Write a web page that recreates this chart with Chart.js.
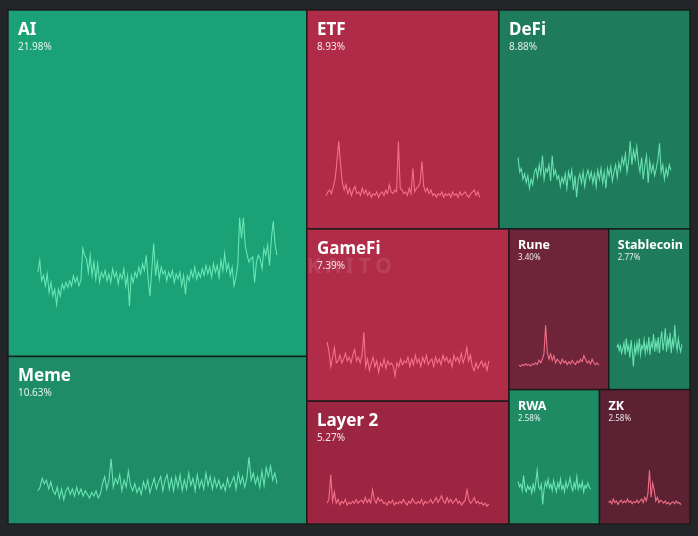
<!DOCTYPE html>
<html>
<head>
<meta charset="utf-8">
<title>Narrative mindshare treemap</title>
<script src="https://cdn.jsdelivr.net/npm/chart.js@4.4.1/dist/chart.umd.min.js"></script>
<style>
    html, body { margin: 0; padding: 0; background: #242528; }
    #wrap { width: 698px; height: 536px; }
</style>
</head>
<body>
<div id="wrap"><canvas id="treemapChart" width="698" height="536"></canvas></div>
<script>
// ---- data ----
const categories = ['AI', 'Meme', 'ETF', 'DeFi', 'GameFi', 'Layer 2', 'Rune', 'Stablecoin', 'RWA', 'ZK'];
const shares = [21.98, 10.63, 8.93, 8.88, 7.39, 5.27, 3.40, 2.77, 2.58, 2.58];
const trend = ['up', 'up', 'down', 'up', 'down', 'down', 'down', 'up', 'up', 'down'];

const sparkAI = [110,145,85,100,70,105,50,80,40,60,15,60,40,75,60,80,65,85,70,100,80,95,70,85,180,160,150,110,160,100,140,90,135,80,110,95,115,85,105,80,120,95,110,75,105,90,120,70,100,10,100,80,110,95,125,105,135,115,160,90,40,120,195,100,140,90,125,105,115,85,110,95,115,80,105,90,110,70,100,45,100,85,115,95,125,90,110,95,120,100,130,105,125,95,135,110,130,95,145,115,165,115,135,100,125,70,95,130,270,210,270,190,160,140,150,155,80,140,160,150,120,180,160,190,130,210,260,190,160];
const sparkMeme = [40,50,75,60,70,45,65,40,30,50,20,45,15,40,50,30,45,25,50,30,45,25,40,30,20,35,25,40,20,30,60,80,45,70,130,50,75,60,85,40,70,50,95,55,40,60,35,50,30,65,45,70,35,55,75,45,65,80,40,70,85,45,75,40,80,50,85,40,70,45,90,55,75,40,85,50,70,45,90,55,80,45,75,50,70,45,60,40,75,50,65,80,45,90,60,80,50,75,135,70,90,60,80,50,95,55,105,80,110,70,90,60];
const sparkETF = [15,25,30,20,40,60,110,165,100,50,30,45,20,35,15,30,40,20,25,15,35,20,30,15,25,10,20,15,25,10,20,25,15,30,20,45,25,20,30,25,165,35,30,20,25,15,35,20,90,25,35,40,50,110,40,25,35,20,30,15,20,10,20,15,25,10,20,15,20,10,25,15,20,10,25,15,20,25,15,10,20,25,30,15,25,10];
const sparkDeFi = [120,80,90,60,75,50,70,35,60,45,80,90,65,100,75,125,60,90,80,100,55,125,70,85,60,70,40,65,50,75,35,80,60,85,30,70,10,60,75,50,80,40,70,85,60,80,50,75,40,85,60,90,50,80,35,90,70,95,55,80,100,65,105,85,120,100,130,80,110,165,100,140,115,150,105,80,120,60,100,125,50,110,80,100,70,90,115,160,80,100,60,90,70,100,85];
const sparkGameFi = [110,85,45,70,95,55,60,75,55,65,80,60,70,55,75,90,60,70,55,75,135,45,65,35,55,70,45,60,30,55,45,65,40,60,50,55,45,20,55,45,65,50,60,55,70,45,65,50,75,55,65,45,70,55,75,50,60,65,45,70,55,65,50,75,60,70,55,65,45,75,60,70,55,80,55,70,95,60,75,45,35,55,40,50,60,45,55,35,60];
const sparkLayer2 = [15,25,90,20,45,15,25,10,20,15,25,10,17,13,20,15,25,15,20,23,15,30,17,25,15,50,25,15,30,20,25,15,17,10,20,15,23,10,17,13,20,15,25,17,10,20,15,27,17,13,20,15,25,10,20,15,17,25,15,20,30,17,25,35,20,15,30,17,25,15,20,27,15,20,10,17,23,50,25,15,20,30,15,20,13,17,10,15,7,13];
const sparkRune = [13,10,15,12,17,13,15,11,17,15,20,15,27,20,30,45,125,50,30,45,27,40,20,30,25,17,30,20,25,15,23,17,27,20,15,25,20,30,23,40,30,20,25,17,30,20,15,20,13];
const sparkStablecoin = [75,85,65,80,55,70,90,50,105,65,80,40,100,60,10,80,55,90,60,105,50,80,70,100,55,85,65,110,50,90,75,120,60,95,70,110,55,100,130,65,95,140,60,105,80,125,55,100,80,150,90,65,105,75,60,85];
const sparkRWA = [100,80,90,65,125,75,60,85,70,80,55,90,65,100,145,80,70,90,10,70,100,80,110,75,90,65,105,80,60,95,75,110,70,85,60,100,75,90,115,80,65,95,75,120,70,90,75,100,60,85,75,95,80,70];
const sparkZK = [10,15,7,20,10,15,5,13,17,9,15,10,20,11,15,7,13,10,17,9,15,20,10,25,15,35,100,25,65,45,15,25,10,17,13,9,15,7,11,5,10,13,7,15,9,10,5];

const sparklines = [sparkAI, sparkMeme, sparkETF, sparkDeFi, sparkGameFi, sparkLayer2, sparkRune, sparkStablecoin, sparkRWA, sparkZK];

// ---- styling ----
const cellColors = ['#1ba176', '#1e8d67', '#b02b47', '#1e7b5b', '#b02c48', '#9c2641', '#6e2539', '#1e7c5c', '#1e8b64', '#5c2234'];
const lineColors = { up: 'rgba(112, 236, 186, 0.9)', down: 'rgba(255, 118, 142, 0.9)' };
const FONT = '"Noto Sans", "Open Sans", sans-serif';

class MindshareTreemap {
    constructor(canvasId) {
        this.canvas = document.getElementById(canvasId);
        this.padding = { left: 8, top: 10, right: 8, bottom: 12 };
        this.domainW = this.canvas.width - this.padding.left - this.padding.right;
        this.domainH = this.canvas.height - this.padding.top - this.padding.bottom;
        this.cells = this.squarify(shares, 0, 0, this.domainW, this.domainH);
        this.render();
    }

    // classic squarified layout, values are already sorted descending
    squarify(values, x, y, w, h) {
        const total = values.reduce((a, b) => a + b, 0);
        const areas = values.map(v => v * w * h / total);
        const out = [];

        const worst = (row, side) => {
            const s = row.reduce((a, b) => a + b, 0);
            const max = Math.max(...row), min = Math.min(...row);
            return Math.max(side * side * max / (s * s), (s * s) / (side * side * min));
        };

        let i = 0;
        while (i < areas.length) {
            const side = Math.min(w, h);
            const row = [areas[i]];
            let j = i + 1;
            while (j < areas.length && worst(row.concat(areas[j]), side) <= worst(row, side)) {
                row.push(areas[j]);
                j++;
            }
            const rowSum = row.reduce((a, b) => a + b, 0);
            if (w >= h) {
                const cw = rowSum / h;
                let cy = y;
                row.forEach(a => { out.push({ x, y: cy, w: cw, h: a / cw }); cy += a / cw; });
                x += cw; w -= cw;
            } else {
                const rh = rowSum / w;
                let cx = x;
                row.forEach(a => { out.push({ x: cx, y, w: a / rh, h: rh }); cx += a / rh; });
                y += rh; h -= rh;
            }
            i = j;
        }
        return out;
    }

    // each sparkline sits in the lower part of its cell
    buildDatasets() {
        return sparklines.map((series, i) => {
            const c = this.cells[i];
            const min = Math.min(...series), max = Math.max(...series);
            const data = series.map((v, k) => ({
                x: c.x + c.w * (0.1 + 0.8 * k / (series.length - 1)),
                y: c.y + c.h * (0.855 - 0.255 * (v - min) / (max - min))
            }));
            return {
                label: categories[i],
                data,
                showLine: true,
                borderColor: lineColors[trend[i]],
                borderWidth: 1.1,
                pointRadius: 0,
                tension: 0
            };
        });
    }

    cellPlugin() {
        const self = this;
        const box = (chart, c) => {
            const { x, y } = chart.scales;
            const left = x.getPixelForValue(c.x), right = x.getPixelForValue(c.x + c.w);
            const top = y.getPixelForValue(c.y), bottom = y.getPixelForValue(c.y + c.h);
            return { left, top, w: right - left, h: bottom - top };
        };
        return {
            id: 'treemapCells',
            beforeDatasetsDraw(chart) {
                const ctx = chart.ctx;
                ctx.save();
                self.cells.forEach((c, i) => {
                    const b = box(chart, c);
                    ctx.fillStyle = cellColors[i];
                    ctx.fillRect(b.left, b.top, b.w, b.h);
                    ctx.strokeStyle = 'rgba(26, 24, 27, 0.9)';
                    ctx.lineWidth = 1.5;
                    ctx.strokeRect(b.left, b.top, b.w, b.h);
                });
                // faint watermark across the middle
                const area = chart.chartArea;
                ctx.fillStyle = 'rgba(255, 255, 255, 0.1)';
                ctx.font = `bold 21px ${FONT}`;
                ctx.letterSpacing = '5px';
                ctx.textAlign = 'center';
                ctx.textBaseline = 'middle';
                ctx.fillText('KAITO', (area.left + area.right) / 2 + 3, (area.top + area.bottom) / 2);
                ctx.restore();
            },
            afterDatasetsDraw(chart) {
                const ctx = chart.ctx;
                ctx.save();
                ctx.textAlign = 'left';
                ctx.textBaseline = 'alphabetic';
                self.cells.forEach((c, i) => {
                    const b = box(chart, c);
                    const big = b.w >= 110 && b.h >= 110;
                    const pad = big ? 10 : 9;
                    ctx.fillStyle = '#ffffff';
                    ctx.font = big ? `bold 17px ${FONT}` : `bold 12.5px ${FONT}`;
                    ctx.fillText(categories[i], b.left + pad, b.top + (big ? 25 : 20));
                    ctx.fillStyle = 'rgba(255, 255, 255, 0.88)';
                    ctx.font = big ? `10px ${FONT}` : `8px ${FONT}`;
                    ctx.fillText(shares[i].toFixed(2) + '%', b.left + pad, b.top + (big ? 40 : 31));
                });
                ctx.restore();
            }
        };
    }

    render() {
        this.chart = new Chart(this.canvas, {
            type: 'scatter',
            data: { datasets: this.buildDatasets() },
            options: {
                responsive: false,
                animation: false,
                layout: { padding: this.padding },
                plugins: { legend: { display: false }, tooltip: { enabled: false } },
                scales: {
                    x: { type: 'linear', min: 0, max: this.domainW, display: false },
                    y: { type: 'linear', min: 0, max: this.domainH, reverse: true, display: false }
                }
            },
            plugins: [this.cellPlugin()]
        });
    }
}

window.Treemap = new MindshareTreemap('treemapChart');
</script>
</body>
</html>
